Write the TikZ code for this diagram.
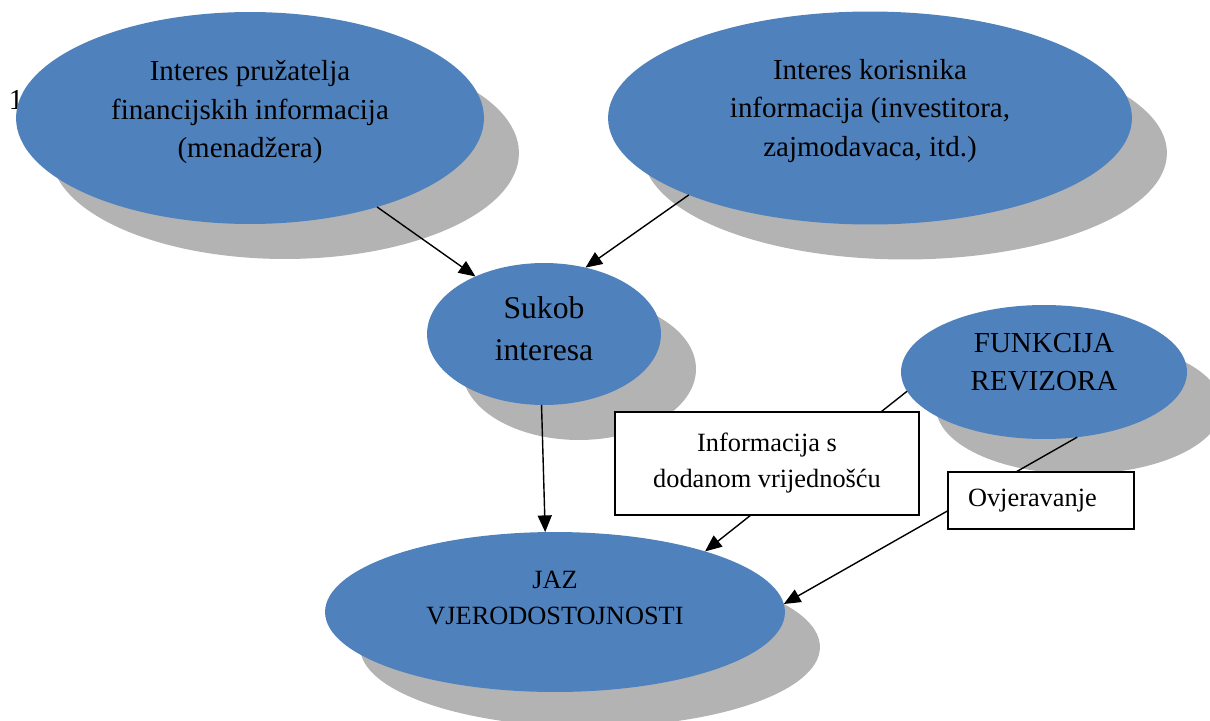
\documentclass[tikz,border=0pt]{standalone}
\usepackage{fontspec}
\setmainfont{Liberation Serif}
\usepackage{xcolor}
\definecolor{ovalblue}{HTML}{4F81BD}
\definecolor{shadowgray}{HTML}{B3B3B3}
\usepackage{tikz}
\usetikzlibrary{positioning,arrows.meta,shadows,shapes.geometric,calc}

\newcommand{\ovalfont}{\fontsize{16.5}{21.8}\selectfont}
\newcommand{\sukobfont}{\fontsize{18}{24}\selectfont}
\newcommand{\jazfont}{\fontsize{15}{20}\selectfont}
\newcommand{\boxfont}{\fontsize{15}{20.5}\selectfont}

\tikzset{
	oval/.style={ellipse, fill=ovalblue, inner sep=0pt, outer sep=0pt,
		drop shadow={shadow xshift=0.7cm, shadow yshift=-0.7cm, fill=shadowgray, opacity=1}},
	ovaltext/.style={align=center, inner sep=0pt},
	infobox/.style={draw, fill=white, line width=0.8pt, inner sep=0pt},
	arr/.style={-{Triangle[length=9.5pt,width=8pt]}, line width=0.8pt}
}

\begin{document}
\begin{tikzpicture}[x=0.02cm, y=-0.02cm]
	\useasboundingbox (0,0) rectangle (1210,720);
	
	\node[inner sep=0pt, font=\ovalfont] (num) at (16,100) {1};
	
	%%% ELLIPSES
	\node[oval, minimum width=9.36cm, minimum height=4.24cm] (prov) at (250,118) {};
	\node[oval, minimum width=10.48cm, minimum height=4.26cm] (user) at (870,118) {};
	\node[oval, minimum width=4.68cm, minimum height=2.84cm] (sukob) at (544,334) {};
	\node[oval, minimum width=5.72cm, minimum height=2.68cm] (fun) at (1044,372) {};
	\node[oval, minimum width=9.2cm, minimum height=3.2cm] (jaz) at (555,612) {};
	
	\node[ovaltext, font=\ovalfont] (prov-t) at (250,112) {Interes pružatelja\\financijskih informacija\\(menadžera)};
	\node[ovaltext, font=\ovalfont] (user-t) at (870,111) {Interes korisnika\\informacija (investitora,\\zajmodavaca, itd.)};
	\node[ovaltext, font=\sukobfont] (sukob-t) at (544,329) {Sukob\\interesa};
	\node[ovaltext, font=\ovalfont] (fun-t) at (1044,362) {FUNKCIJA\\REVIZORA};
	\node[ovaltext, font=\jazfont] (jaz-t) at (555,598) {JAZ\\VJERODOSTOJNOSTI};
	
	%%% ARROWS
	\draw[arr] (prov.-35) -- (sukob.140);
	\draw[arr] (user.203) -- (sukob.58);
	\draw[arr] (sukob.-92) -- (jaz.97);
	\draw[arr] (fun.188) -- (jaz.22);
	\draw[arr] (fun.-63) -- (jaz.2);
	
	%%% BOXES ON THE ARROWS
	\node[infobox, minimum width=6.08cm, minimum height=2.06cm, align=center, font=\boxfont] (added) at (767,463.5) {Informacija s\\dodanom vrijednošću};
	\node[infobox, minimum width=3.72cm, minimum height=1.14cm, inner xsep=0.4cm, text width=2.92cm, align=left, font=\boxfont] (ovj) at (1041,500.5) {Ovjeravanje};
\end{tikzpicture}
\end{document}
